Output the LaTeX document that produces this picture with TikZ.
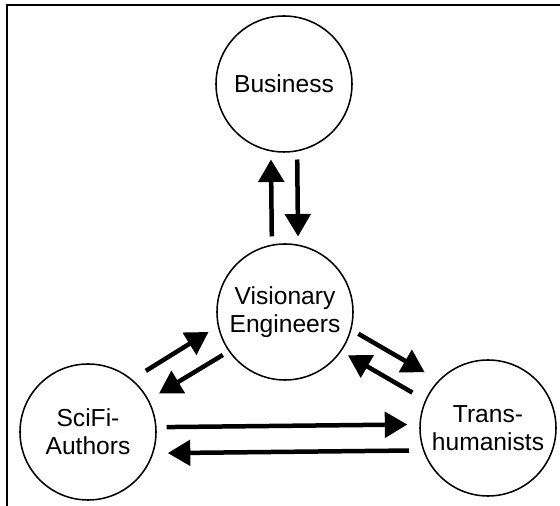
\documentclass[tikz,border=0pt]{standalone}
\usepackage{fontspec}
\setmainfont{Liberation Sans}
\usetikzlibrary{arrows.meta}

\begin{document}
\begin{tikzpicture}[
        actor/.style={circle, draw, line width=1.1pt, minimum size=3.4cm, inner sep=0pt,
            align=center, font=\fontsize{17.5}{20}\selectfont},
        flow/.style={-{Triangle[length=16pt,width=18pt]}, line width=3.2pt,
            shorten <=0.25cm, shorten >=0.3cm}
    ]
    \useasboundingbox (0,0) rectangle (14,12.65);
    % the frame
    \draw[line width=1.2pt] (0.175,0) -- (0.175,12.525) -- (14,12.525);

    % the four groups
    \node[actor] (business) at (7.1,10.55) {Business};
    \node[actor] (visionary) at (7.125,4.85) {Visionary\\Engineers};
    \node[actor] (scifi) at (2.2,1.85) {SciFi-\\Authors};
    \node[actor] (trans) at (12.2,1.95) {Trans-\\humanists};

    % business <-> engineers
    \draw[flow, shorten <=0.2cm, shorten >=0.2cm] (visionary.101) -- (business.259);
    \draw[flow, shorten <=0.2cm, shorten >=0.2cm] (business.281) -- (visionary.79);

    % authors <-> engineers
    \draw[flow, shorten <=0.4cm, shorten >=0.27cm] (scifi.50) -- (visionary.192);
    \draw[flow, shorten <=0.17cm] (visionary.215) -- (scifi.28);

    % engineers <-> transhumanists
    \draw[flow, shorten <=0.2cm, shorten >=0.4cm] (visionary.345) -- (trans.136);
    \draw[flow, shorten <=0.37cm, shorten >=0.19cm] (trans.156) -- (visionary.325);

    % authors <-> transhumanists
    \draw[flow] (scifi.4) -- (trans.177);
    \draw[flow, shorten <=0.35cm, shorten >=0.36cm] (trans.199) -- (scifi.342);
\end{tikzpicture}
\end{document}
